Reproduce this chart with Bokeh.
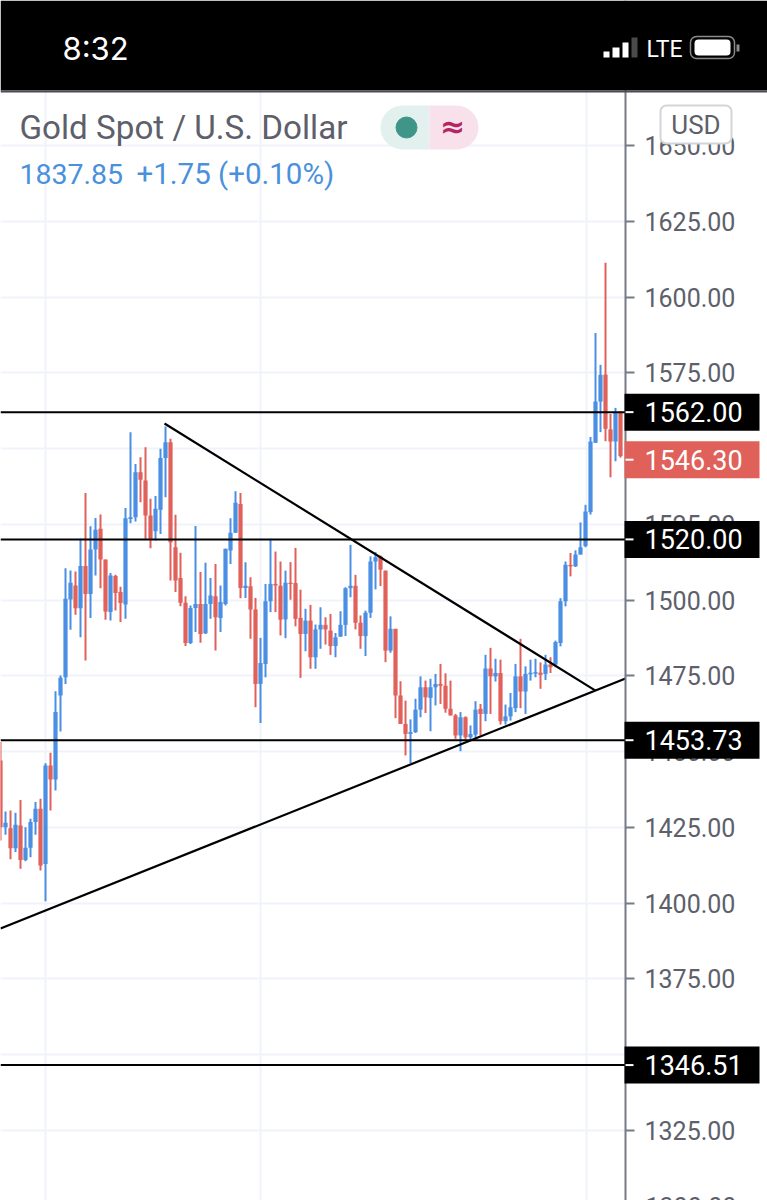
from bokeh.plotting import figure
from bokeh.embed import file_html
from bokeh.resources import INLINE
from bokeh.models import (BoxAnnotation, ColumnDataSource, FixedTicker, Grid, Label,
                          LinearAxis, NumeralTickFormatter)

# ---------- data (price values) ----------
opens = [1447.0,1425.0,1424.7,1418.1,1425.6,1414.2,1418.2,1426.7,1431.1,1412.9,1445.4,1440.8,1468.5,1474.5,
 1500.2,1504.8,1497.3,1511.2,1502.0,1516.7,1523.5,1513.4,1496.0,1507.9,1502.6,1498.5,1526.7,1527.3,1542.2,1539.4,
 1527.9,1522.7,1529.8,1546.9,1552.1,1517.4,1507.3,1499.1,1485.8,1497.4,
 1498.7,1489.0,1498.7,1501.2,1494.1,1498.7,1516.3,1522.2,1531.7,1504.0,1504.5,1496.9,1472.3,1478.9,1499.6,1505.3,
 1504.7,1493.6,1505.7,1505.6,1494.1,1488.8,1493.2,1481.1,1490.3,1491.8,1489.9,1484.8,1487.9,1491.8,1503.9,1504.7,
 1492.5,1488.1,1495.8,1512.7,1514.4,
 1509.7,1483.3,1490.5,1468.5,1459.1,1455.8,1456.4,1463.8,1471.2,1467.7,1471.2,1472.3,1471.7,1464.1,1461.9,1455.3,
 1461.3,1454.7,1455.6,1464.1,1462.4,1477.4,1474.8,1475.9,1460.0,1461.6,1464.3,1474.8,1469.8,1475.5,1475.7,1476.0,
 1475.6,1478.7,1478.7,
 1485.8,1499.6,1511.6,1511.1,1515.0,1517.8,1529.0,1551.9,1565.5,1574.4,1556.3,1552.3,1561.8]
highs = [1453.1,1430.2,1430.5,1429.8,1434.0,1425.0,1427.8,1433.3,1434.4,1446.1,1449.6,1469.9,1475.1,1510.5,
 1509.7,1509.4,1520.2,1535.3,1524.3,1527.1,1528.2,1513.4,1508.9,1508.3,1504.4,1530.4,1555.4,1544.9,1547.1,1550.4,
 1533.4,1534.3,1549.9,1557.3,1553.2,1528.1,1515.6,1501.2,1498.2,1524.4,
 1509.2,1512.3,1507.3,1511.9,1504.8,1516.9,1527.0,1535.9,1535.3,1512.5,1507.5,1500.7,1487.5,1505.3,1520.2,1516.0,
 1512.7,1509.7,1512.5,1517.2,1503.4,1497.1,1498.4,1491.9,1497.6,1494.3,1495.4,1489.1,1496.3,1504.2,1518.2,1508.3,
 1494.9,1496.5,1514.4,1515.8,1514.7,
 1509.7,1494.6,1490.5,1473.2,1466.8,1460.6,1467.4,1474.8,1473.4,1474.0,1475.6,1478.9,1475.8,1473.4,1462.4,1463.0,
 1461.6,1458.6,1466.6,1465.7,1481.9,1484.2,1480.6,1480.3,1465.5,1469.3,1478.9,1487.2,1478.1,1480.3,1480.6,1479.4,
 1481.9,1481.1,1486.6,
 1500.6,1512.7,1515.5,1516.4,1525.6,1531.4,1553.8,1588.1,1577.6,1611.3,1561.4,1563.4,1562.2]
lows = [1420.6,1422.5,1414.4,1416.8,1411.3,1413.8,1415.1,1422.5,1410.7,1400.6,1430.5,1437.1,1456.6,1472.3,
 1490.2,1495.1,1487.7,1480.0,1494.1,1508.1,1503.9,1493.5,1493.2,1496.5,1492.7,1493.8,1525.3,1525.9,1532.3,1520.2,
 1517.1,1519.6,1521.8,1533.9,1506.4,1502.6,1497.9,1484.8,1485.5,1489.4,
 1485.9,1488.8,1493.8,1483.3,1489.4,1498.2,1511.9,1522.1,1500.6,1500.7,1487.2,1464.6,1459.4,1474.5,1496.0,1496.0,
 1488.3,1487.4,1500.1,1491.3,1474.3,1483.1,1477.3,1477.3,1483.9,1485.3,1481.9,1481.1,1487.9,1488.1,1500.9,1490.3,
 1483.9,1481.5,1494.1,1503.5,1504.6,
 1479.5,1482.6,1461.0,1459.1,1448.7,1446.2,1456.1,1461.3,1462.7,1456.7,1465.2,1465.7,1462.8,1461.9,1454.2,1450.1,
 1454.0,1453.6,1454.5,1455.3,1460.0,1462.4,1473.1,1458.9,1458.9,1460.2,1463.0,1464.3,1462.4,1473.4,1474.5,1470.7,
 1473.6,1475.9,1477.8,
 1484.7,1497.9,1507.8,1510.9,1515.0,1517.4,1528.2,1551.8,1555.4,1552.4,1540.5,1545.8,1547.0]
closes = [1425.0,1426.5,1418.1,1425.8,1414.2,1418.2,1426.7,1431.1,1412.4,1445.4,1440.8,1463.0,1474.3,1500.4,
 1505.7,1497.3,1511.2,1502.0,1516.7,1523.2,1513.4,1496.2,1508.1,1502.3,1499.0,1527.0,1527.3,1542.2,1539.7,1527.9,
 1520.2,1530.1,1546.9,1552.1,1519.1,1506.4,1499.1,1485.8,1497.4,1498.7,
 1488.8,1498.7,1501.5,1494.3,1499.3,1516.9,1522.2,1532.1,1504.0,1504.7,1496.9,1472.3,1479.2,1499.6,1505.3,1504.8,
 1493.5,1505.7,1505.3,1493.8,1488.8,1493.2,1481.1,1490.3,1491.8,1490.3,1484.8,1487.7,1491.8,1503.9,1504.7,1492.5,
 1488.1,1495.8,1512.7,1514.1,1510.0,
 1483.3,1490.5,1468.5,1459.1,1455.8,1456.4,1463.8,1471.2,1467.9,1471.2,1472.3,1471.7,1464.1,1461.9,1455.3,1461.3,
 1454.7,1455.8,1463.8,1462.4,1477.4,1474.8,1475.9,1460.0,1461.6,1464.6,1474.8,1469.8,1475.6,1476.0,1476.2,1475.3,
 1478.7,1477.8,1486.1,
 1499.6,1511.6,1511.1,1515.0,1517.4,1529.2,1552.3,1565.5,1574.3,1556.5,1552.3,1561.8,1547.5]
y_ticks = [1325,1350,1375,1400,1425,1450,1475,1500,1525,1550,1575,1600,1625,1650]
hidden_tick_labels = [1350, 1550]
x_grid = [9.0, 52.0, 117.2]
tag_values = [1562.00, 1520.00, 1453.73, 1346.51]
last_price = 1546.30
falling_x = [32.8, 119.0]
falling_y = [1558.25, 1470.1]
rising_x = [0.0, 125.0]
rising_y = [1391.6, 1474.1]
chart_end = 125.0
title_text = "Gold Spot / U.S. Dollar"
quote_price = "1837.85"
quote_change = "+1.75 (+0.10%)"

BLUE, RED, GREY = "#4a8fe3", "#e0605a", "#5d606b"

PXU = 5.0      # pixels per candle
PPU = 3.03     # pixels per price unit
W, HT = 767, 1200
Y = lambda py: 1650 - (py - 145) / PPU
PY = lambda v: 145 + (1650 - v) * PPU

# The frame fills the whole picture; the price axis sits at a fixed place inside it.
p = figure(width=W, height=HT, x_range=(0, W / PXU), y_range=(Y(HT), Y(0)),
           x_axis_location=None, y_axis_location=None, output_backend="svg", toolbar_location=None,
           min_border=0, outline_line_color=None, background_fill_color="white")
p.grid.visible = False
p.add_layout(Grid(dimension=0, ticker=FixedTicker(ticks=x_grid), grid_line_color="#f0f3fa", grid_line_width=2), "center")
p.add_layout(Grid(dimension=1, ticker=FixedTicker(ticks=y_ticks), grid_line_color="#f0f3fa", grid_line_width=2), "center")
# the grid stops at the price axis
p.add_layout(BoxAnnotation(left=chart_end, right=W / PXU, fill_color="white", fill_alpha=1, line_alpha=0, level="underlay"))

ax = LinearAxis(fixed_location=chart_end, ticker=FixedTicker(ticks=y_ticks),
                formatter=NumeralTickFormatter(format="0.00"))
ax.major_label_overrides = {t: "" for t in hidden_tick_labels}
ax.axis_line_color = "#787b86"
ax.axis_line_width = 2
ax.major_tick_line_color = "#787b86"
ax.major_tick_line_width = 2
ax.major_tick_out = 9
ax.major_tick_in = 0
ax.minor_tick_line_color = None
ax.major_label_text_color = GREY
ax.major_label_text_font = "Roboto"
ax.major_label_text_font_size = "25px"
ax.major_label_standoff = 10
p.add_layout(ax, "right")

idx = list(range(len(opens)))
colors = [BLUE if c >= o else RED for o, c in zip(opens, closes)]
src = ColumnDataSource(dict(x=idx, o=opens, h=highs, l=lows, c=closes, col=colors,
                            top=[max(a, b) for a, b in zip(opens, closes)],
                            bot=[min(a, b) for a, b in zip(opens, closes)]))
p.segment("x", "h", "x", "l", color="col", line_width=2, source=src)
p.vbar("x", 0.84, "top", "bot", fill_color="col", line_color=None, source=src)

p.segment([0] * len(tag_values), tag_values, [chart_end] * len(tag_values), tag_values,
          line_color="black", line_width=2)
p.line(falling_x, falling_y, line_color="black", line_width=2.2)
p.line(rising_x, rising_y, line_color="black", line_width=2.2)


# page furniture, placed in canvas pixels (y counted from the top of the picture)
def sy(py):
    return HT - py

def box(l, r, t, b, fill, alpha=1.0, line=None, lw=0, radius=0):
    p.add_layout(BoxAnnotation(left=l, right=r, top=sy(t), bottom=sy(b), left_units="screen", right_units="screen",
                               top_units="screen", bottom_units="screen", fill_color=fill, fill_alpha=alpha,
                               line_color=line or fill, line_alpha=1 if line else 0, line_width=lw or 1,
                               border_radius=radius))

def label(x, y, text, color, size, font="Roboto", align="left", style="normal"):
    p.add_layout(Label(x=x, y=sy(y), x_units="screen", y_units="screen", text=text, text_color=color,
                       text_font=font, text_font_size=f"{size}px", text_align=align, text_baseline="middle",
                       text_font_style=style))

# status bar
box(0, W, 0, 90, "black")
box(0, W, 90, 92, "#4b4d55")
label(62, 48, "8:32", "white", 31, font="Inter")
box(603, 609, 51, 57, "white")
box(612, 619, 47, 57, "white")
box(622, 628, 42, 57, "white")
box(631, 637, 37, 57, "#4a4a4a")
label(646, 48.5, "LTE", "white", 23)
box(690, 734, 36, 58, "black", line="#8a8a8a", lw=1.5, radius=6)
box(694, 730, 39, 55, "white", radius=4)
box(736, 739, 44, 51, "#8a8a8a")

# price tags on the axis
def tag(v, fill):
    c = PY(v)
    box(624, 759, c - 18.5, c + 18.5, fill)
    box(625, 633, c - 1, c + 1, "white")
    label(644, c, f"{v:.2f}", "white", 27)
for v in tag_values:
    tag(v, "black")
tag(last_price, RED)

# header
label(19, 127, title_text, GREY, 33.2)
label(19, 173, quote_price, "#4a90dc", 28.5)
label(136, 173, quote_change, "#4a90dc", 29.5)
box(380, 429, 105, 149, "#e2f0ee", radius=(22, 0, 0, 22))
box(429, 478, 105, 149, "#f8e1ea", radius=(0, 22, 22, 0))
p.scatter([406 / PXU], [Y(127)], size=21, color="#3f9688", level="overlay")
label(452, 126, "≈", "#b3265f", 30, font="DejaVu Sans", align="center", style="bold")
box(660, 731, 105, 143, "white", line="#d4d5da", lw=2, radius=6)
label(695.5, 124, "USD", GREY, 26, align="center")
label(645, PY(1300), "1300.00", GREY, 25)

open("out.html", "w").write(file_html(p, INLINE))
